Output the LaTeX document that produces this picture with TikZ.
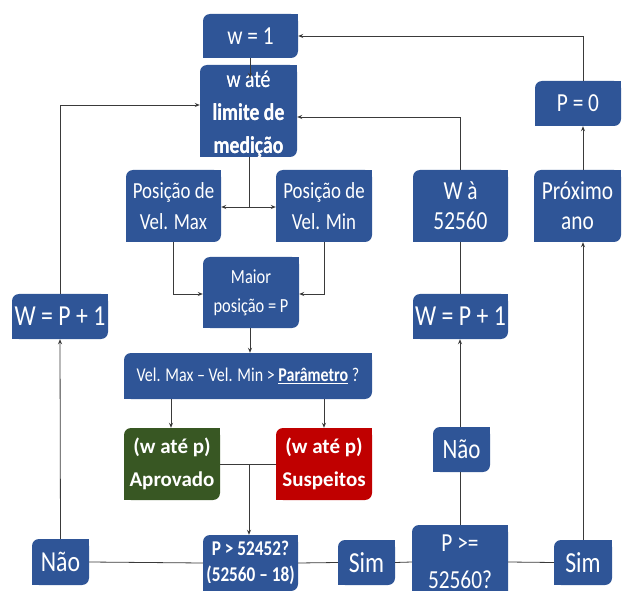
\documentclass[tikz,border=0pt]{standalone}
\usepackage{fontspec}
\setmainfont{Carlito}[FakeStretch=0.82]
\newfontfamily\widefont{Carlito}
\usetikzlibrary{arrows.meta}
\definecolor{bx}{HTML}{2F5597}
\definecolor{gr}{HTML}{385723}
\definecolor{rd}{HTML}{C00000}
\definecolor{ln}{HTML}{3A3A3A}
\begin{document}
\begin{tikzpicture}[x=1pt,y=-1pt,
  box/.style={fill=bx,text=white,rounded corners=7pt,inner sep=0pt,align=center},
  conn/.style={draw=ln,line width=0.8pt},
  arr/.style={conn,-{Stealth[length=5pt,width=4pt]}},
  fA/.style={font=\fontsize{26}{30}\selectfont},
  fB/.style={font=\fontsize{23}{31}\selectfont},
  fC/.style={font=\fontsize{20}{29}\selectfont},
  fD/.style={font=\fontsize{19.5}{22}\selectfont},
  fE/.style={font=\widefont\bfseries\fontsize{21}{33}\selectfont},
  fF/.style={font=\fontsize{29}{34}\selectfont},
  fG/.style={font=\bfseries\fontsize{21}{26}\selectfont},
  fH/.style={font=\fontsize{24}{33}\selectfont},
  fI/.style={font=\fontsize{26}{37}\selectfont}]
\useasboundingbox (0,0) rectangle (622,591);
\clip (0,0) rectangle (622,591);

% boxes
\node[box,fA,minimum width=95pt,minimum height=44pt] (w1) at (250.5,36) {w = 1};
\node[box,minimum width=97pt,minimum height=92pt] (wate) at (248.5,111) {};
\node[fH,text=white,align=center,inner sep=0pt] (watetext) at (248.5,114) {w até\\\textbf{limite de}\\\textbf{medição}};
\node[box,fB,minimum width=95pt,minimum height=72pt] (vmax) at (173.5,206) {Posição de\\Vel. Max};
\node[box,fB,minimum width=96pt,minimum height=72pt] (vmin) at (324,206) {Posição de\\Vel. Min};
\node[box,fC,minimum width=96pt,minimum height=71pt] (maior) at (251,292.5) {Maior\\posição = P};
\node[box,fD,minimum width=248pt,minimum height=46pt] (cond) at (248,376) {Vel. Max -- Vel. Min > \underline{\textbf{Parâmetro}} ?};
\node[box,fE,fill=gr,minimum width=96pt,minimum height=72pt] (aprov) at (172,464) {(w até p)\\Aprovado};
\node[box,fE,fill=rd,minimum width=96pt,minimum height=72pt] (susp) at (324,464) {(w até p)\\Suspeitos};
\node[box,fG,minimum width=95pt,minimum height=56pt] (pa) at (250.5,563) {P > 52452?\\(52560 -- 18)};
\node[box,fF,minimum width=57pt,minimum height=46pt] (nao1) at (60.5,562) {Não};
\node[box,fF,minimum width=96pt,minimum height=45pt] (wpl) at (60,316.5) {W = P + 1};
\node[box,fF,minimum width=57pt,minimum height=45pt] (sim1) at (366.5,562.5) {Sim};
\node[box,fI,minimum width=96pt,minimum height=74pt] (pge) at (460,562) {P >=\\52560?};
\node[box,fF,font=\fontsize{28}{34}\selectfont,minimum width=57pt,minimum height=45pt] (nao2) at (461.5,449.5) {Não};
\node[box,fF,minimum width=95pt,minimum height=45pt] (wpr) at (460.5,316.5) {W = P + 1};
\node[box,fF,minimum width=58pt,minimum height=45pt] (sim2) at (583,562.5) {Sim};
\node[box,fA,minimum width=95pt,minimum height=72pt] (wa) at (460.5,206) {W à\\52560};
\node[box,fA,minimum width=87pt,minimum height=72pt] (prox) at (577.5,206) {Próximo\\ano};
\node[box,fA,minimum width=86pt,minimum height=45pt] (p0) at (578,103.5) {P = 0};

% square corners (top right, bottom left)
\foreach \n/\c in {w1/bx,wate/bx,vmax/bx,vmin/bx,maior/bx,cond/bx,aprov/gr,susp/rd,pa/bx,nao1/bx,wpl/bx,sim1/bx,pge/bx,nao2/bx,wpr/bx,sim2/bx,wa/bx,prox/bx,p0/bx}{
  \fill[\c] (\n.north east) rectangle ++(-8,8);
  \fill[\c] (\n.south west) rectangle ++(8,-8);
}
\node[fH,text=white,align=center,inner sep=0pt] at (watetext) {w até\\\textbf{limite de}\\\textbf{medição}};

% connectors
\coordinate (w1in) at (250,78);
\draw[arr] (w1.south -| w1in) -- (w1in);
\coordinate (split) at (249,207);
\draw[conn] (wate.south -| split) -- (split);
\draw[arr] (split) -- (split -| vmax.east);
\draw[arr] (split) -- (split -| vmin.west);
\draw[arr] (vmax.south) |- ([yshift=-1.5pt]maior.west);
\draw[arr] (vmin.south) |- ([yshift=-1.5pt]maior.east);
\draw[arr] (maior.south -| 250,0) -- (cond.north -| 250,0);
\draw[arr] (cond.south -| 171,0) -- (aprov.north -| 171,0);
\draw[arr] (cond.south -| 324,0) -- (susp.north);
\draw[conn] (aprov.east) -- (susp.west);
\coordinate (join) at (249,464);
\draw[arr] (join) -- (pa.north -| join);
\draw[conn] (pa.west) -- (nao1.east);
\draw[conn] (pa.east) -- (sim1.west);
\draw[conn] (sim1.east) -- (pge.west);
\draw[conn] (pge.east) -- (sim2.west);
\draw[arr] (nao1.north) -- (wpl.south);
\draw[arr] (wpl.north) |- ([yshift=6pt]wate.west);
\draw[conn] (pge.north) -- (nao2.south -| pge.north);
\draw[arr] (nao2.north -| pge.north) -- (wpr.south -| pge.north);
\draw[conn] (wpr.north -| pge.north) -- (wa.south -| pge.north);
\draw[arr] (wa.north -| pge.north) |- ([yshift=-6pt]wate.east);
\draw[arr] (sim2.north) -- (prox.south -| sim2.north);
\draw[arr] (prox.north -| sim2.north) -- (p0.south -| sim2.north);
\draw[arr] (p0.north -| sim2.north) |- (w1.east);
\end{tikzpicture}
\end{document}
